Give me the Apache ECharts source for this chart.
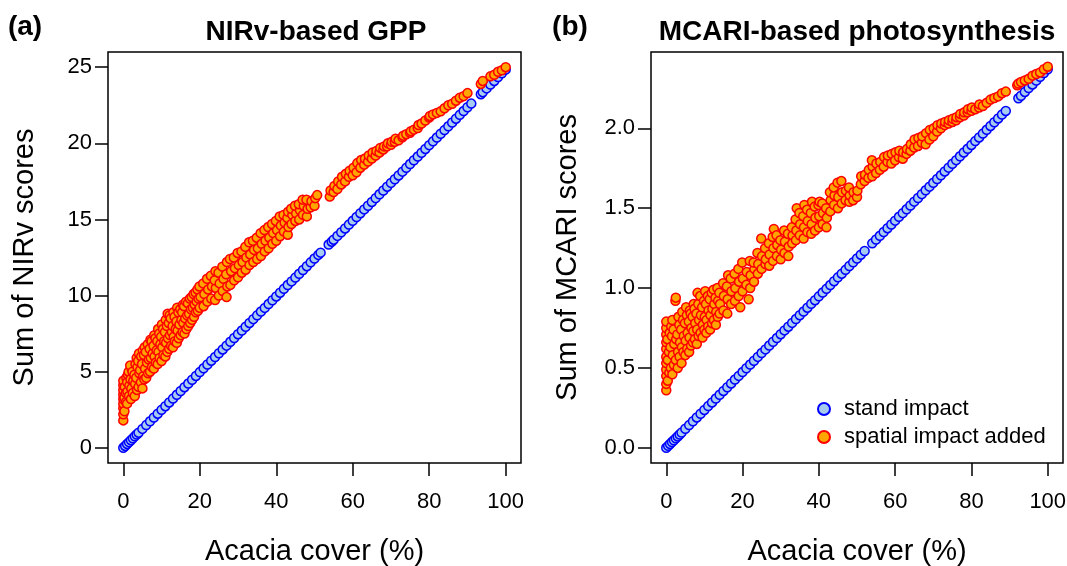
<!DOCTYPE html>
<html><head><meta charset="utf-8">
<script src="https://cdn.jsdelivr.net/npm/echarts@6/dist/echarts.min.js"></script>
<style>html,body{margin:0;padding:0;background:#fff}#c{width:1067px;height:566px}</style>
</head><body><div id="c"></div>
<script>
const xTicks=[0,20,40,60,80,100];
const nirvTicks=[0,5,10,15,20,25];
const mcariTicks=[0,0.5,1,1.5,2];
const seriesNames=['stand impact','spatial impact added'];

const nirvStand=[[0,0],[0.5,0.12],[1,0.25],[1.5,0.37],[2,0.5],[2.5,0.62],[3,0.75],[3.5,0.87],[4,0.99],[5,1.24],[6,1.49],[7,1.74],[8,1.99],[9,2.24],[10,2.49],[11,2.73],[12,2.98],[13,3.23],[14,3.48],[15,3.73],[16,3.98],[17,4.22],[18,4.47],[19,4.72],[20,4.97],[21,5.22],[22,5.47],[23,5.72],[24,5.96],[25,6.21],[26,6.46],[27,6.71],[28,6.96],[29,7.21],[30,7.46],[31,7.70],[32,7.95],[33,8.20],[34,8.45],[35,8.70],[36,8.95],[37,9.19],[38,9.44],[39,9.69],[40,9.94],[41,10.19],[42,10.44],[43,10.69],[44,10.93],[45,11.18],[46,11.43],[47,11.68],[48,11.93],[49,12.18],[50,12.43],[51,12.67],[51.6,12.82],[53.7,13.35],[54.5,13.54],[55,13.67],[56,13.92],[57,14.16],[58,14.41],[59,14.66],[60,14.91],[61,15.16],[62,15.41],[63,15.66],[64,15.90],[65,16.15],[66,16.40],[67,16.65],[68,16.90],[69,17.15],[70,17.40],[71,17.64],[72,17.89],[73,18.14],[74,18.39],[75,18.64],[76,18.89],[77,19.13],[78,19.38],[79,19.63],[80,19.88],[81,20.13],[82,20.38],[83,20.63],[84,20.87],[85,21.12],[86,21.37],[87,21.62],[88,21.87],[89,22.12],[90,22.37],[91,22.61],[93.5,23.23],[94,23.36],[95,23.61],[96,23.86],[97,24.10],[98,24.35],[99,24.60],[100,24.85]];

const nirvSpatial=[[0,1.8],[0,2.2],[0,2.6],[0,2.9],[0,3.2],[0,3.5],[0,3.8],[0,4.1],[0,4.4],
[0.3,2.4],[0.3,3.3],[0.4,4.0],[0.7,3.0],[0.7,3.6],[0.8,4.6],[1,2.9],[1.1,3.7],[1,4.3],[1.2,4.8],
[1.5,3.4],[1.6,4.1],[1.4,5.0],[2,3.2],[2.1,3.9],[1.9,4.5],[2.2,5.2],[1.8,5.4],
[2.5,3.6],[2.6,4.4],[2.4,5.0],[3,3.4],[3.1,4.2],[2.9,4.8],[3.2,5.5],
[3.6,3.8],[3.4,4.6],[3.7,5.3],[3.5,5.9],[4,4.0],[4.2,4.9],[3.9,5.7],[4.1,6.2],
[4.6,4.3],[4.4,5.1],[4.7,6.0],[5,3.9],[5.2,4.7],[4.9,5.5],[5.1,6.4],
[5.5,4.5],[5.7,5.2],[5.4,6.1],[5.6,6.6],[6,4.6],[6.2,5.6],[5.9,6.3],
[6.5,4.9],[6.7,5.8],[6.4,6.8],[7,5.0],[7.2,5.9],[6.9,6.5],[7.1,7.1],
[7.5,5.3],[7.7,6.2],[7.4,7.0],[8,5.2],[8.2,6.0],[7.9,6.7],[8.1,7.4],
[8.5,5.6],[8.7,6.4],[8.4,7.2],[9,5.5],[9.2,6.3],[8.9,7.0],[9.1,7.8],
[9.5,5.9],[9.7,6.8],[9.4,7.5],[10,5.7],[10.2,6.6],[9.9,7.3],[10.1,8.1],
[10.5,6.1],[10.7,7.0],[10.4,7.8],[11,6.0],[11.2,6.9],[10.9,7.6],[11.1,8.4],
[11.5,6.3],[11.7,7.2],[11.4,8.0],[11.6,8.8],[12,6.5],[12.2,7.4],[11.9,8.2],[12.1,8.7],
[12.5,6.7],[12.7,7.6],[12.4,8.5],[13,6.6],[13.2,7.3],[12.9,8.0],[13.1,8.9],
[13.5,7.0],[13.7,7.8],[13.4,8.6],[14,6.9],[14.2,7.7],[13.9,8.3],[14.1,9.2],
[14.5,7.2],[14.7,8.1],[14.4,8.9],[15,7.4],[15.2,8.4],[14.9,9.1],
[15.5,7.6],[15.7,8.2],[15.4,8.9],[15.6,9.4],[16,7.5],[16.2,8.5],[15.9,9.3],
[16.5,7.8],[16.7,8.7],[16.4,9.6],[17,8.0],[17.2,8.8],[16.9,9.5],
[17.5,8.2],[17.7,9.1],[17.4,9.8],[18,8.4],[18.2,9.2],[17.9,9.9],
[18.5,8.6],[18.7,9.4],[18.4,10.1],[19,8.9],[19.2,9.6],[18.9,10.2],
[19.5,9.0],[19.7,9.8],[19.4,10.4],[20,9.2],[20.2,9.9],[19.9,10.6],
[21,9.3],[21.2,10.1],[20.9,10.8],[22,9.6],[22.2,10.4],[21.9,11.1],
[23,9.8],[23.2,10.6],[22.9,11.3],[24,9.7],[24.2,10.5],[23.9,11.0],[24.1,11.6],
[25,10.0],[25.2,10.8],[24.9,11.5],[26,10.3],[26.2,11.1],[25.9,11.9],
[27,9.9],[27.2,10.6],[26.9,11.4],[27.1,12.2],[28,10.7],[28.2,11.6],[27.9,12.4],
[29,11.0],[29.2,11.8],[28.9,12.5],[30,11.2],[30.2,12.0],[29.9,12.8],
[31,11.5],[31.2,12.2],[30.9,12.9],[32,11.7],[32.2,12.5],[31.9,13.2],
[33,12.0],[33.2,12.7],[32.9,13.5],[34,12.2],[34.2,13.0],[33.9,13.6],
[35,12.4],[35.2,13.1],[34.9,13.8],[36,12.6],[36.2,13.4],[35.9,14.1],
[37,12.9],[37.2,13.6],[36.9,14.3],[38,13.1],[38.2,13.8],[37.9,14.5],
[39,13.4],[39.2,14.1],[38.9,14.7],[40,13.6],[40.2,14.3],[39.9,14.9],
[41,13.9],[41.2,14.6],[40.9,15.2],[42,14.2],[42.2,14.8],[41.9,15.3],
[43,14.0],[43.2,14.5],[42.9,15.1],[43.1,15.5],[44,14.7],[44.2,15.3],[43.9,15.7],
[45,14.9],[45.2,15.4],[44.9,15.9],[46,15.0],[46.2,15.6],[45.9,16.0],
[47,15.3],[47.2,15.9],[46.9,16.3],[48,15.2],[48.2,15.7],[47.9,16.3],
[49,15.8],[49.2,16.2],[50,15.9],[50.2,16.4],[50.7,16.6],
[54,16.5],[54.2,16.9],[55,16.8],[55.2,17.2],[56,17.0],[56.2,17.5],
[57,17.3],[57.2,17.8],[58,17.5],[58.2,18.0],[59,17.8],[59.2,18.2],
[60,17.9],[60.2,18.4],[61,18.1],[61.2,18.7],[62,18.4],[62.2,18.9],
[63,18.6],[63.2,19.0],[64,18.8],[64.2,19.2],[65,19.0],[65.2,19.4],
[66,19.2],[66.2,19.5],[67,19.4],[67.2,19.7],[68,19.6],[68.2,19.8],
[69,19.8],[69.2,20.0],[70,19.9],[70.2,20.1],[71,20.1],[71.2,20.3],[72,20.2],
[73,20.4],[73.2,20.5],[74,20.6],[75,20.7],[75.2,20.8],[76,20.9],
[77,21.0],[77.2,21.2],[78,21.3],[79,21.5],[80,21.7],[80.2,21.8],[81,21.9],
[82,22.0],[83,22.1],[84,22.3],[85,22.5],[86,22.6],[87,22.8],[88,23.0],[89,23.1],[90,23.3],
[93.5,23.9],[94,24.1],[96,24.4],[97,24.5],[98,24.7],[99,24.8],[100,25.0]];

const mcariStand=[[0,0],[0.5,0.012],[1,0.024],[1.5,0.036],[2,0.047],[2.5,0.059],[3,0.071],[3.5,0.083],[4,0.095],[5,0.119],[6,0.142],[7,0.166],[8,0.190],[9,0.213],[10,0.237],[11,0.261],[12,0.284],[13,0.308],[14,0.332],[15,0.356],[16,0.379],[17,0.403],[18,0.427],[19,0.450],[20,0.474],[21,0.498],[22,0.521],[23,0.545],[24,0.569],[25,0.593],[26,0.616],[27,0.640],[28,0.664],[29,0.687],[30,0.711],[31,0.735],[32,0.758],[33,0.782],[34,0.806],[35,0.830],[36,0.853],[37,0.877],[38,0.901],[39,0.924],[40,0.948],[41,0.972],[42,0.995],[43,1.019],[44,1.043],[45,1.067],[46,1.090],[47,1.114],[48,1.138],[49,1.161],[50,1.185],[51,1.209],[52,1.232],[54,1.280],[55,1.304],[56,1.327],[57,1.351],[58,1.375],[59,1.398],[60,1.422],[61,1.446],[62,1.469],[63,1.493],[64,1.517],[65,1.541],[66,1.564],[67,1.588],[68,1.612],[69,1.635],[70,1.659],[71,1.683],[72,1.706],[73,1.730],[74,1.754],[75,1.778],[76,1.801],[77,1.825],[78,1.849],[79,1.872],[80,1.896],[81,1.920],[82,1.943],[83,1.967],[84,1.991],[85,2.015],[86,2.038],[87,2.062],[88,2.086],[89,2.109],[92.3,2.188],[93,2.204],[94,2.228],[95,2.252],[96,2.275],[97,2.299],[98,2.323],[99,2.346],[100,2.37]];

const mcariSpatial=[[0,0.36],[0,0.40],[0,0.45],[0,0.49],[0,0.53],[0,0.57],[0,0.62],[0,0.66],[0,0.71],[0,0.75],[0,0.79],
[0.4,0.42],[0.4,0.55],[0.3,0.68],[0.8,0.47],[0.7,0.60],[0.9,0.72],[1.2,0.50],[1.1,0.63],[1.3,0.76],
[1.6,0.46],[1.7,0.58],[1.5,0.70],[1.6,0.80],[2,0.52],[2.1,0.65],[1.9,0.74],
[2.5,0.55],[2.6,0.68],[2.4,0.92],[2.5,0.94],[3,0.50],[3.1,0.60],[2.9,0.71],[3.2,0.82],
[3.5,0.57],[3.6,0.66],[3.4,0.77],[4,0.53],[4.1,0.63],[3.9,0.74],[4.2,0.85],
[4.5,0.60],[4.6,0.70],[4.4,0.80],[5,0.58],[5.1,0.67],[4.9,0.78],[5.2,0.88],
[5.5,0.62],[5.6,0.72],[5.4,0.83],[6,0.60],[6.1,0.69],[5.9,0.79],[6.2,0.86],
[6.5,0.64],[6.6,0.75],[6.4,0.84],[7,0.66],[7.1,0.73],[6.9,0.82],[7.2,0.90],
[7.5,0.68],[7.6,0.78],[7.4,0.87],[8,0.65],[8.1,0.74],[7.9,0.84],[8.2,0.97],
[8.5,0.70],[8.6,0.80],[8.4,0.90],[9,0.72],[9.1,0.83],[8.9,0.95],
[9.5,0.69],[9.6,0.77],[9.4,0.88],[10,0.74],[10.1,0.82],[9.9,0.92],[10.2,0.98],
[10.5,0.72],[10.6,0.80],[10.4,0.90],[11,0.76],[11.1,0.86],[10.9,0.95],
[11.5,0.74],[11.6,0.83],[11.4,0.93],[12,0.78],[12.1,0.87],[11.9,0.97],
[12.5,0.80],[12.6,0.90],[12.4,0.99],[13,0.77],[13.1,0.85],[12.9,0.94],
[13.5,0.82],[13.6,0.92],[13.4,1.00],[14,0.84],[14.1,0.90],[13.9,0.97],
[15,0.86],[15.1,0.95],[14.9,1.03],[16,0.84],[16.1,0.93],[15.9,1.01],[16.2,1.08],
[17,0.90],[17.1,0.98],[16.9,1.06],[18,0.92],[18.1,1.00],[17.9,1.09],
[19.4,0.88],[19,0.95],[19.1,1.04],[18.9,1.12],[20,0.98],[20.1,1.06],[19.9,1.16],
[21.6,0.93],[21,1.02],[21.1,1.10],[22,1.00],[22.1,1.08],[21.9,1.17],
[23,1.04],[23.1,1.12],[22.9,1.16],[24,1.09],[24.1,1.15],[23.9,1.22],
[25,1.12],[25.1,1.20],[24.9,1.31],[26,1.15],[26.1,1.18],[25.9,1.25],
[27,1.14],[27.1,1.21],[26.9,1.28],[28,1.17],[28.1,1.25],[27.9,1.32],[28.2,1.37],
[29,1.20],[29.1,1.27],[28.9,1.33],[30,1.18],[30.1,1.24],[29.9,1.30],
[31,1.22],[31.1,1.29],[30.9,1.36],[32,1.20],[32.1,1.26],[31.9,1.34],
[33,1.28],[33.1,1.33],[32.9,1.38],[34,1.30],[34.1,1.36],[33.9,1.43],[34.2,1.50],
[35,1.33],[35.1,1.40],[34.9,1.47],[36,1.31],[36.1,1.38],[35.9,1.45],[36.2,1.52],
[37,1.35],[37.1,1.42],[36.9,1.49],[38,1.34],[38.1,1.40],[37.9,1.47],[38.2,1.54],
[39,1.36],[39.1,1.44],[38.9,1.51],[40,1.38],[40.1,1.45],[39.9,1.52],[40.2,1.54],
[41,1.40],[41.1,1.47],[40.9,1.53],[42,1.38],[42.1,1.44],[41.9,1.50],
[43,1.48],[43.1,1.55],[42.9,1.60],[44,1.52],[44.1,1.58],[43.9,1.63],
[45,1.50],[45.1,1.57],[44.9,1.66],[46,1.53],[46.1,1.60],[45.9,1.67],
[47,1.55],[47.1,1.61],[48,1.54],[48.1,1.58],[47.9,1.63],[49,1.55],[49.1,1.60],
[50,1.57],[50.1,1.61],[51,1.65],[51.1,1.70],[52,1.67],[52.1,1.71],[53,1.69],[53.1,1.74],
[54,1.70],[54.1,1.76],[53.9,1.80],[55,1.72],[55.1,1.78],[56,1.74],[56.1,1.79],
[57,1.76],[57.1,1.82],[58,1.79],[58.1,1.83],[59,1.78],[59.1,1.84],[60,1.80],[60.1,1.85],
[61,1.82],[61.1,1.86],[62,1.81],[62.1,1.85],[63,1.84],[63.1,1.87],[64,1.86],[64.1,1.90],
[65,1.88],[65.1,1.93],[66,1.89],[66.1,1.94],[67,1.91],[67.1,1.95],[68,1.90],[68.1,1.97],
[69,1.93],[69.1,1.99],[70,1.95],[70.1,2.00],[71,1.98],[71.1,2.02],[72,2.00],[72.1,2.03],
[73,2.02],[73.1,2.04],[74,2.03],[74.1,2.05],[75,2.04],[75.1,2.06],[76,2.05],[76.1,2.07],
[77,2.07],[77.1,2.09],[78,2.08],[78.1,2.10],[79,2.10],[79.1,2.12],[80,2.11],[80.1,2.13],
[81,2.12],[82,2.13],[82.1,2.15],[83,2.14],[84,2.16],[85,2.18],[86,2.19],[87,2.20],[88,2.22],[89,2.23],
[92,2.27],[92.3,2.28],[93,2.29],[94,2.30],[95,2.31],[96,2.33],[97,2.34],[98,2.35],[99,2.37],[100,2.386]];

const FONT="'Liberation Sans', Arial, Helvetica, sans-serif";
const BLUE_FILL='#A6CBEF', BLUE_EDGE='#0000FF', ORANGE_FILL='#FFA500', ORANGE_EDGE='#FF0000';

function xAx(gi){
  return {type:'value',gridIndex:gi,min:-4,max:104,
    name:'Acacia cover (%)',nameLocation:'middle',nameGap:74,
    nameTextStyle:{fontSize:29,color:'#000',fontFamily:FONT},
    axisLine:{show:false,onZero:false},
    axisTick:{show:true,inside:false,length:13,lineStyle:{color:'#000',width:1.5},customValues:xTicks},
    axisLabel:{customValues:xTicks,fontSize:22,color:'#000',fontFamily:FONT,margin:28},
    splitLine:{show:false}};
}
function yAx(gi,min,max,ticks,name,fmt){
  return {type:'value',gridIndex:gi,min:min,max:max,
    name:name,nameLocation:'middle',nameGap:69,
    nameTextStyle:{fontSize:29,color:'#000',fontFamily:FONT},
    axisLine:{show:false,onZero:false},
    axisTick:{show:true,inside:false,length:13,lineStyle:{color:'#000',width:1.5},customValues:ticks},
    axisLabel:{customValues:ticks,fontSize:22,color:'#000',fontFamily:FONT,margin:16,formatter:fmt},
    splitLine:{show:false}};
}
function sc(name,gi,data,fill,edge,z){
  return {type:'scatter',name:name,xAxisIndex:gi,yAxisIndex:gi,data:data,symbol:'circle',symbolSize:9,
    itemStyle:{color:fill,borderColor:edge,borderWidth:1.5,opacity:1},
    emphasis:{disabled:true},z:z};
}

const chart=echarts.init(document.getElementById('c'));
chart.setOption({
  animation:false,
  backgroundColor:'#fff',
  grid:[
    {left:108,top:52,width:413,height:411,show:true,borderColor:'#000',borderWidth:1.5,backgroundColor:'transparent',containLabel:false,outerBoundsMode:'none'},
    {left:651,top:52,width:412,height:411,show:true,borderColor:'#000',borderWidth:1.5,backgroundColor:'transparent',containLabel:false,outerBoundsMode:'none'}
  ],
  xAxis:[xAx(0),xAx(1)],
  yAxis:[
    yAx(0,-1,26,nirvTicks,'Sum of NIRv scores',function(v){return String(v);}),
    yAx(1,-0.0953,2.478,mcariTicks,'Sum of MCARI scores',function(v){return Number(v).toFixed(1);})
  ],
  legend:{
    data:seriesNames,orient:'vertical',left:817,top:397,padding:0,
    itemWidth:12,itemHeight:12,itemGap:4,icon:'circle',
    textStyle:{fontSize:22,color:'#000',fontFamily:FONT,lineHeight:24,padding:[0,0,0,9]},
    selectedMode:false
  },
  graphic:[
    {type:'text',x:316,y:32,style:{text:'NIRv-based GPP',font:"bold 28px 'Liberation Sans', Arial, sans-serif",fill:'#000',align:'center',verticalAlign:'middle'}},
    {type:'text',x:857,y:32,style:{text:'MCARI-based photosynthesis',font:"bold 28px 'Liberation Sans', Arial, sans-serif",fill:'#000',align:'center',verticalAlign:'middle'}},
    {type:'text',x:25,y:27,style:{text:'(a)',font:"bold 28px 'Liberation Sans', Arial, sans-serif",fill:'#000',align:'center',verticalAlign:'middle'}},
    {type:'text',x:570,y:27,style:{text:'(b)',font:"bold 28px 'Liberation Sans', Arial, sans-serif",fill:'#000',align:'center',verticalAlign:'middle'}}
  ],
  series:[
    sc(seriesNames[0],0,nirvStand,BLUE_FILL,BLUE_EDGE,2),
    sc(seriesNames[1],0,nirvSpatial,ORANGE_FILL,ORANGE_EDGE,3),
    sc(seriesNames[0],1,mcariStand,BLUE_FILL,BLUE_EDGE,2),
    sc(seriesNames[1],1,mcariSpatial,ORANGE_FILL,ORANGE_EDGE,3)
  ]
});
</script></body></html>
